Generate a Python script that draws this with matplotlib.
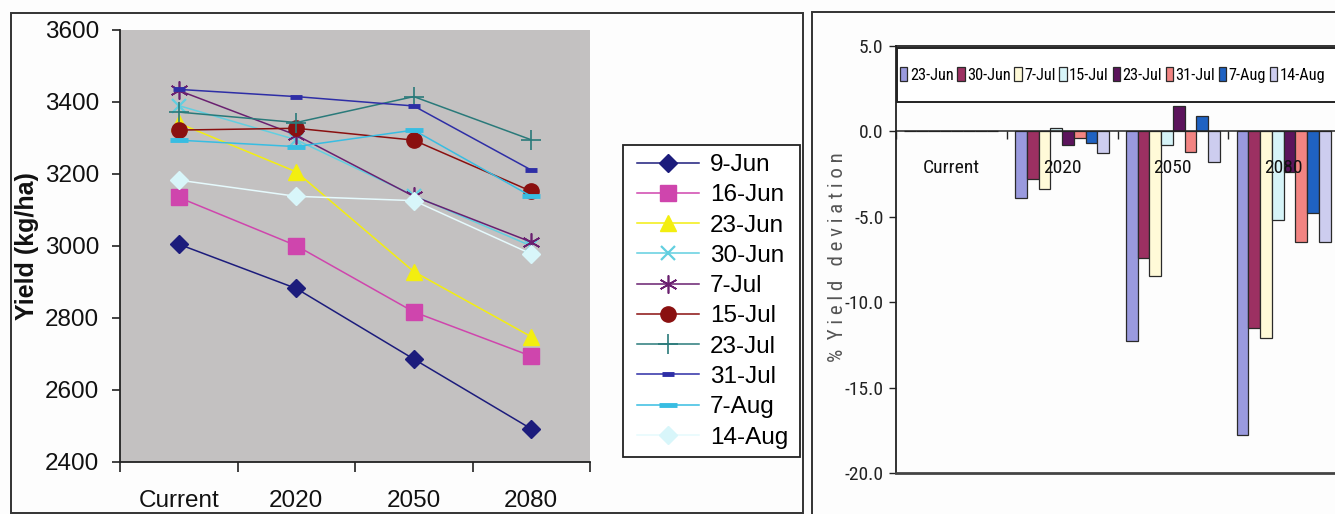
import matplotlib
matplotlib.use("Agg")
import matplotlib.pyplot as plt
from matplotlib import font_manager as fm
from matplotlib.patches import Rectangle
import numpy as np

# ---- data -------------------------------------------------------------
periods = ["Current", "2020", "2050", "2080"]

sowing_dates = ["9-Jun", "16-Jun", "23-Jun", "30-Jun", "7-Jul",
                "15-Jul", "23-Jul", "31-Jul", "7-Aug", "14-Aug"]

yield_9jun = [3005, 2882, 2686, 2492]
yield_16jun = [3135, 3001, 2817, 2694]
yield_23jun = [3341, 3206, 2929, 2748]
yield_30jun = [3390, 3295, 3140, 3000]
yield_7jul = [3432, 3308, 3138, 3011]
yield_15jul = [3322, 3327, 3294, 3152]
yield_23jul = [3372, 3343, 3415, 3295]
yield_31jul = [3435, 3415, 3389, 3211]
yield_7aug = [3294, 3276, 3322, 3138]
yield_14aug = [3183, 3138, 3126, 2978]

dev_dates = ["23-Jun", "30-Jun", "7-Jul", "15-Jul",
             "23-Jul", "31-Jul", "7-Aug", "14-Aug"]
dev_23jun = [0.0, -3.9, -12.3, -17.8]
dev_30jun = [0.0, -2.8, -7.4, -11.5]
dev_7jul = [0.0, -3.4, -8.5, -12.1]
dev_15jul = [0.0, 0.2, -0.8, -5.2]
dev_23jul = [0.0, -0.8, 1.5, -2.4]
dev_31jul = [0.0, -0.4, -1.2, -6.5]
dev_7aug = [0.0, -0.7, 0.9, -4.8]
dev_14aug = [0.0, -1.3, -1.8, -6.5]


# ---- fonts ------------------------------------------------------------
def narrow_font():
    """Return (FontProperties, size scale) for a condensed sans face."""
    found = []
    for f in fm.fontManager.ttflist:
        name = f.name.lower()
        stretch = str(f.stretch).lower()
        if f.style != "normal":
            continue
        if str(f.weight) not in ("400", "normal", "regular", "book"):
            continue
        is_narrow = ("narrow" in name or "condensed" in name or
                     "condensed" in stretch or "narrow" in f.fname.lower() or
                     "condensed" in f.fname.lower())
        if is_narrow and "mono" not in name and "serif" not in name.replace("sans", ""):
            found.append(f)
    rank = ["liberation sans narrow", "arial narrow", "roboto condensed",
            "noto sans", "open sans", "dejavu sans"]

    def key(f):
        nm = f.name.lower()
        for i, r in enumerate(rank):
            if nm.startswith(r):
                return i
        return len(rank)
    if found:
        found.sort(key=key)
        return fm.FontProperties(fname=found[0].fname), 1.0
    return fm.FontProperties(family="Liberation Sans"), 0.82


narrow_fp, narrow_scale = narrow_font()


def narrow(size):
    fp = narrow_fp.copy()
    fp.set_size(size * narrow_scale)
    return fp


# ---- figure -----------------------------------------------------------
W, H = 1335, 514
fig = plt.figure(figsize=(W / 100, H / 100), dpi=100, facecolor="#fdfdfd")


def fx(px):
    return px / W


def fy(py):
    return 1 - py / H


# chart frames
fig.patches.append(Rectangle((fx(11), fy(513)), fx(803) - fx(11), fy(13) - fy(513),
                             transform=fig.transFigure, fill=False,
                             edgecolor="#333333", linewidth=1.4))
fig.patches.append(Rectangle((fx(812), fy(520)), fx(1345) - fx(812), fy(12) - fy(520),
                             transform=fig.transFigure, fill=False,
                             edgecolor="#333333", linewidth=1.4))

# ---- left: yield lines -----------------------------------------------
sans = "Liberation Sans"
fs_left = 17.5

axL = fig.add_axes([fx(120), fy(462), fx(590) - fx(120), fy(30) - fy(462)])
axL.set_facecolor("#c3c1c1")

x = np.arange(len(periods)) + 0.5
series = [
    (yield_9jun, dict(color="#1c1c7c", marker="D", ms=9, mfc="#1c1c7c", mec="#1c1c7c")),
    (yield_16jun, dict(color="#cf45ad", marker="s", ms=11, mfc="#cf45ad", mec="#cf45ad")),
    (yield_23jun, dict(color="#f3ee10", marker="^", ms=12, mfc="#f3ee10", mec="#f3ee10")),
    (yield_30jun, dict(color="#62cfe0", marker="x", ms=10, mew=1.6, mec="#62cfe0")),
    (yield_7jul, dict(color="#6a2070", marker=(6, 2, 0), ms=13, mew=1.2, mec="#6a2070")),
    (yield_15jul, dict(color="#8a1010", marker="o", ms=11, mfc="#8a1010", mec="#8a1010")),
    (yield_23jul, dict(color="#2a7a7a", marker="+", ms=14, mew=1.2, mec="#2a7a7a")),
    (yield_31jul, dict(color="#2e2ea6", marker="_", ms=8, mew=3.5, mec="#2e2ea6")),
    (yield_7aug, dict(color="#38bde2", marker="_", ms=13, mew=3.5, mec="#38bde2")),
    (yield_14aug, dict(color="#e6fafd", marker="D", ms=9, mfc="#d8f6fa", mec="#d8f6fa")),
]
for (vals, style), label in zip(series, sowing_dates):
    axL.plot(x, vals, linewidth=1.1, label=label, **style)

axL.set_xlim(0, 4)
axL.set_ylim(2400, 3600)
axL.set_yticks(np.arange(2400, 3601, 200))
axL.set_xticks(np.arange(0, 5))
axL.set_xticklabels([])
axL.set_xticks(x, minor=True)
axL.set_xticklabels(periods, minor=True)
axL.tick_params(axis="x", which="major", direction="out", length=7, width=1.2, color="#222222")
axL.tick_params(axis="x", which="minor", length=0, pad=20)
axL.tick_params(axis="y", direction="out", length=6, width=1.2, pad=9, color="#222222")
for lab in axL.get_xticklabels(minor=True) + axL.get_yticklabels():
    lab.set_fontfamily(sans)
    lab.set_fontsize(fs_left)
    lab.set_color("#111111")
for s in ("top", "right"):
    axL.spines[s].set_visible(False)
for s in ("left", "bottom"):
    axL.spines[s].set_linewidth(1.3)
    axL.spines[s].set_color("#222222")
axL.set_ylabel("Yield (kg/ha)", fontfamily=sans, fontsize=18, fontweight="bold",
               labelpad=4, color="#111111")

# left legend with its own frame
fig.patches.append(Rectangle((fx(623), fy(457)), fx(800) - fx(623), fy(145) - fy(457),
                             transform=fig.transFigure, facecolor="white",
                             edgecolor="#222222", linewidth=1.3, zorder=0.5))
legL = fig.legend(*axL.get_legend_handles_labels(), loc="upper left",
                  bbox_to_anchor=(fx(637), fy(154)), frameon=False,
                  prop={"family": sans, "size": fs_left}, handlelength=2.55,
                  handletextpad=0.45, labelspacing=0.34, borderpad=0,
                  borderaxespad=0)

# ---- right: yield deviation bars -------------------------------------
fs_right = 14

axR = fig.add_axes([fx(896), fy(473), fx(1339) - fx(896), fy(45.7) - fy(473)])
axR.set_facecolor("#fdfdfd")
axR.set_axisbelow(False)

bar_colors = ["#9a9ade", "#9c3062", "#fffad8", "#d6f4f8",
              "#5c145c", "#f28482", "#1f62c2", "#cdcdef"]
dev_series = [dev_23jun, dev_30jun, dev_7jul, dev_15jul,
              dev_23jul, dev_31jul, dev_7aug, dev_14aug]
n = len(dev_series)
bw = 0.106
for i, (vals, col, lab) in enumerate(zip(dev_series, bar_colors, dev_dates)):
    off = (i - (n - 1) / 2) * bw
    axR.bar(x + off, vals, width=bw, color=col, edgecolor="#2a2a2a",
            linewidth=0.9, label=lab, zorder=1)

axR.set_xlim(0, 4)
axR.set_ylim(-20, 5)
axR.set_yticks(np.arange(-20, 5.1, 5))
axR.set_yticklabels([f"{v:.1f}" for v in np.arange(-20, 5.1, 5)])
axR.spines["bottom"].set_position(("data", 0))
axR.spines["bottom"].set_linewidth(1.1)
axR.spines["right"].set_visible(False)
axR.spines["top"].set_linewidth(1.3)
axR.spines["left"].set_linewidth(1.3)
for s in ("top", "left", "bottom"):
    axR.spines[s].set_color("#222222")
axR.axhline(-20, color="#444444", linewidth=2.0, clip_on=False, zorder=3)

axR.set_xticks(np.arange(0, 5))
axR.set_xticklabels([])
axR.set_xticks(x, minor=True)
axR.set_xticklabels(periods, minor=True)
axR.tick_params(axis="x", which="major", direction="out", length=6, width=1.0, color="#222222")
axR.tick_params(axis="x", which="minor", length=0, pad=20)
axR.tick_params(axis="y", direction="out", length=5, width=1.0, pad=4, color="#222222")
for lab in axR.get_xticklabels(minor=True):
    lab.set_fontproperties(narrow(fs_right))
    lab.set_color("#111111")
for lab in axR.get_yticklabels():
    lab.set_fontproperties(narrow(fs_right))
    lab.set_color("#222222")

fig.text(fx(838), fy(257), "%  Y i e l d   d e v i a t i o n", rotation=90,
         ha="center", va="center", fontproperties=narrow(15), color="#555555")

# right legend: one row across the top of the plot
fig.patches.append(Rectangle((fx(897), fy(102)), fx(1345) - fx(897), fy(48) - fy(102),
                             transform=fig.transFigure, facecolor="white",
                             edgecolor="#222222", linewidth=1.4, zorder=4))
legR = fig.legend(*axR.get_legend_handles_labels(), loc="center left",
                  bbox_to_anchor=(fx(900), fy(75)), ncol=8, frameon=False,
                  prop=narrow(11.8), handlelength=0.45,
                  handleheight=0.9, handletextpad=0.15, columnspacing=0.22,
                  borderpad=0, borderaxespad=0)
legR.set_zorder(6)

fig.savefig("out.png", dpi=100, facecolor=fig.get_facecolor())
